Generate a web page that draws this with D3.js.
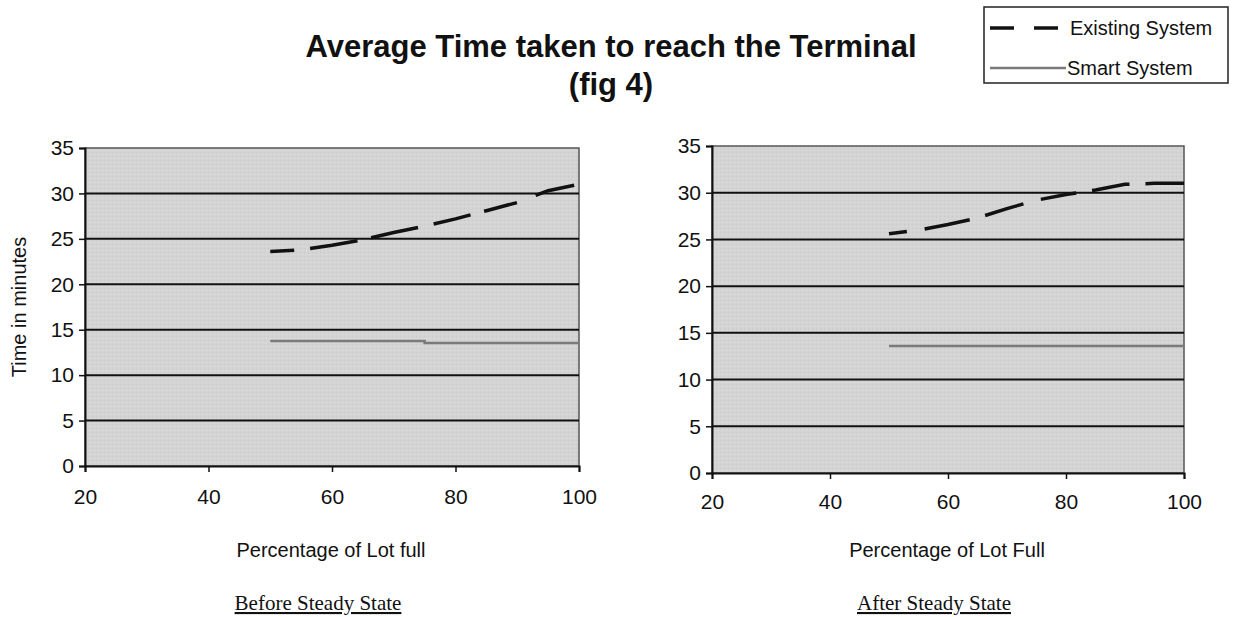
<!DOCTYPE html>
<html>
<head>
<meta charset="utf-8">
<script src="https://cdn.jsdelivr.net/npm/d3@7"></script>
<style>
  body { margin: 0; background: #fff; }
  text { font-family: "Liberation Sans", Arial, sans-serif; fill: #111; }
</style>
</head>
<body>
<svg id="chart" width="1235" height="617"></svg>
<script>
// percentage of lot full
var lotFull = [50, 55, 60, 65, 70, 75, 80, 85, 90, 95, 100];

// before steady state
var beforeExisting = [23.6, 23.8, 24.3, 24.9, 25.7, 26.4, 27.2, 28.1, 29.0, 30.3, 31.0];
var beforeSmart    = [13.75, 13.75, 13.75, 13.75, 13.75, 13.55, 13.55, 13.55, 13.55, 13.55, 13.55];

// after steady state
var afterExisting = [25.6, 26.0, 26.6, 27.3, 28.3, 29.2, 29.8, 30.3, 30.9, 31.0, 31.0];
var afterSmart    = [13.6, 13.6, 13.6, 13.6, 13.6, 13.6, 13.6, 13.6, 13.6, 13.6, 13.6];

var xTicks = [20, 40, 60, 80, 100];
var yTicks = [0, 5, 10, 15, 20, 25, 30, 35];
var seriesNames = ["Existing System", "Smart System"];

var svg = d3.select("#chart");

var panels = [
  {
    box: {x0: 85, x1: 579, y0: 148, y1: 466},
    existing: beforeExisting, smart: beforeSmart, smartCurve: d3.curveStepAfter,
    dash: "24,16,48,14,48,16,38,14,34,20,40,40",
    xLabel: "Percentage of Lot full", caption: "Before Steady State",
    yLabel: "Time in minutes", tickY: 497
  },
  {
    box: {x0: 712, x1: 1184, y0: 146, y1: 473},
    existing: afterExisting, smart: afterSmart, smartCurve: d3.curveLinear,
    dash: "18,18,46,16,40,18,36,16,38,16,44,40",
    xLabel: "Percentage of Lot Full", caption: "After Steady State",
    yLabel: null, tickY: 502
  }
];

// stipple-ish background
var defs = svg.append("defs");
var pat = defs.append("pattern").attr("id", "stipple")
  .attr("width", 4).attr("height", 4).attr("patternUnits", "userSpaceOnUse");
pat.append("rect").attr("width", 4).attr("height", 4).attr("fill", "#d4d4d4");
pat.append("rect").attr("x", 0).attr("y", 0).attr("width", 1).attr("height", 1).attr("fill", "#c8c8c8");
pat.append("rect").attr("x", 2).attr("y", 2).attr("width", 1).attr("height", 1).attr("fill", "#dedede");

panels.forEach(function(p){
  var b = p.box;
  var x = d3.scaleLinear().domain([20, 100]).range([b.x0, b.x1]);
  var y = d3.scaleLinear().domain([0, 35]).range([b.y1, b.y0]);
  var g = svg.append("g");

  g.append("rect")
    .attr("x", b.x0).attr("y", b.y0)
    .attr("width", b.x1 - b.x0).attr("height", b.y1 - b.y0)
    .attr("fill", "url(#stipple)")
    .attr("stroke", "#555").attr("stroke-width", 1.5);

  // gridlines
  g.selectAll(".grid").data(yTicks.filter(function(d){ return d > 0 && d < 35; }))
    .enter().append("line")
    .attr("x1", b.x0).attr("x2", b.x1)
    .attr("y1", function(d){ return y(d); }).attr("y2", function(d){ return y(d); })
    .attr("stroke", "#111").attr("stroke-width", 2);

  // axes
  var yAxis = g.append("g").attr("transform", "translate(" + b.x0 + ",0)")
    .call(d3.axisLeft(y).tickValues(yTicks).tickSize(6).tickPadding(5));
  var xAxis = g.append("g").attr("transform", "translate(0," + b.y1 + ")")
    .call(d3.axisBottom(x).tickValues(xTicks).tickSize(6));
  [yAxis, xAxis].forEach(function(a){
    a.select(".domain").attr("stroke", "#111").attr("stroke-width", 2);
    a.selectAll(".tick line").attr("stroke", "#111").attr("stroke-width", 1.5);
    a.selectAll(".tick text").style("font-size", "21px").style("font-family", "Liberation Sans, Arial, sans-serif").attr("fill", "#111");
  });
  xAxis.selectAll(".tick text").attr("y", p.tickY - b.y1).attr("dy", "0.35em");

  // series
  var line = d3.line().x(function(d, i){ return x(lotFull[i]); }).y(function(d){ return y(d); });
  g.append("path").datum(p.smart)
    .attr("d", line.curve(p.smartCurve))
    .attr("fill", "none").attr("stroke", "#7a7a7a").attr("stroke-width", 2.5);
  g.append("path").datum(p.existing)
    .attr("d", d3.line().x(function(d, i){ return x(lotFull[i]); }).y(function(d){ return y(d); }))
    .attr("fill", "none").attr("stroke", "#111").attr("stroke-width", 3.5)
    .attr("stroke-dasharray", p.dash);

  // labels
  var cx = (b.x0 + b.x1) / 2;
  g.append("text").attr("x", cx - 1).attr("y", 557)
    .attr("text-anchor", "middle").style("font-size", "20px").text(p.xLabel);
  g.append("text").attr("x", cx - 14).attr("y", 610)
    .attr("text-anchor", "middle")
    .style("font-family", "Liberation Serif, Times New Roman, serif")
    .style("font-size", "21px").style("text-decoration", "underline")
    .text(p.caption);
  if (p.yLabel) {
    g.append("text")
      .attr("transform", "translate(26," + ((b.y0 + b.y1) / 2) + ") rotate(-90)")
      .attr("text-anchor", "middle").style("font-size", "20px").text(p.yLabel);
  }
});

// title
svg.append("text").attr("x", 611).attr("y", 57).attr("text-anchor", "middle")
  .style("font-size", "31px").style("font-weight", "bold").text("Average Time taken to reach the Terminal");
svg.append("text").attr("x", 611).attr("y", 95).attr("text-anchor", "middle")
  .style("font-size", "31px").style("font-weight", "bold").text("(fig 4)");

// legend
var leg = svg.append("g");
leg.append("rect").attr("x", 984).attr("y", 7).attr("width", 244).attr("height", 76)
  .attr("fill", "#fff").attr("stroke", "#222").attr("stroke-width", 1.5);
var legItems = leg.selectAll(".item").data(seriesNames).enter().append("g")
  .attr("transform", function(d, i){ return "translate(0," + (28 + i * 40) + ")"; });
legItems.append("line")
  .attr("x1", 990).attr("x2", function(d, i){ return i === 0 ? 1062 : 1066; })
  .attr("y1", 0).attr("y2", 0)
  .attr("stroke", function(d, i){ return i === 0 ? "#111" : "#7a7a7a"; })
  .attr("stroke-width", function(d, i){ return i === 0 ? 3.5 : 2.5; })
  .attr("stroke-dasharray", function(d, i){ return i === 0 ? "24,20" : null; });
legItems.append("text").attr("x", function(d, i){ return i === 0 ? 1070 : 1067; }).attr("y", 0)
  .attr("dy", "0.35em").style("font-size", "20px").text(function(d){ return d; });
</script>
</body>
</html>
